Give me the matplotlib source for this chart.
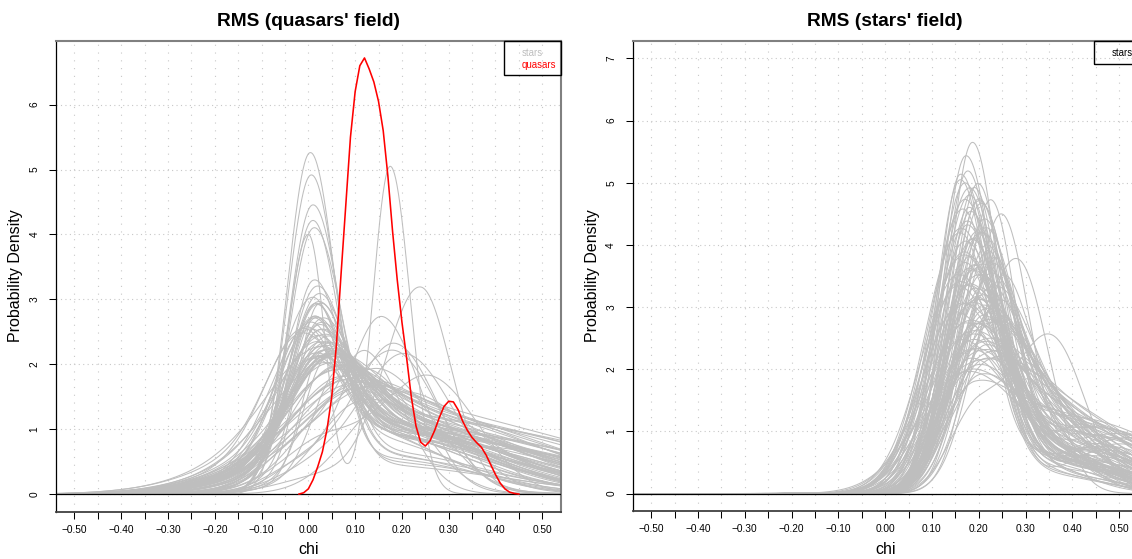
import matplotlib
matplotlib.use('Agg')

import matplotlib.pyplot as plt
import numpy as np
from matplotlib.patches import Rectangle

plt.rcParams['font.family'] = ['Liberation Sans', 'DejaVu Sans']

# Densidades de las estrellas en el campo de los quasars:
# cada curva = nucleo (moda, altura, ancho izq/der) + cola (centro, altura, ancho izq/der)
qf_mode = [0.015, 0.010, 0.020, 0.012, 0.018, 0.008, 0.025, 0.015, 0.005, 0.022,
           0.020, 0.030, 0.010, 0.035, 0.000, 0.025, 0.040, 0.015, 0.030, 0.005,
           0.045, 0.020, 0.035, 0.010, 0.050, 0.025, -0.005, 0.040, 0.015, 0.030,
           0.020, 0.045,
           0.050, 0.070, 0.040, 0.090, 0.060, 0.030, 0.110, 0.080, 0.055, 0.120, 0.035, 0.065,
           0.240, 0.160, 0.190, 0.210, 0.170, 0.270,
           0.003, 0.005, 0.008, 0.008, 0.010, 0.010, 0.000,
           -0.010, 0.000, -0.020, 0.010, 0.030, -0.015, 0.020, 0.005, 0.040, 0.015,
           0.025, 0.035, 0.020, 0.060, 0.000, 0.010, 0.030, 0.045, 0.020, 0.070,
           0.100, 0.150, 0.200, 0.180, 0.130]
qf_core = [2.35, 2.20, 2.10, 2.05, 1.95, 2.00, 1.90, 2.15, 1.85, 1.80,
           1.60, 1.50, 1.40, 1.55, 1.30, 1.45, 1.35, 1.25, 1.20, 1.50,
           1.30, 1.10, 1.15, 1.35, 1.20, 1.05, 1.20, 1.00, 1.45, 0.95,
           1.25, 1.10,
           0.80, 0.70, 0.60, 0.55, 0.75, 0.65, 0.50, 0.40, 0.90, 0.60, 0.85, 0.45,
           3.00, 2.45, 2.00, 1.80, 1.60, 1.50,
           5.00, 4.65, 4.15, 3.97, 3.77, 2.90, 4.00,
           1.70, 1.50, 1.40, 1.90, 1.30, 1.60, 1.00, 2.10, 0.90, 1.75,
           1.60, 1.40, 2.30, 1.20, 1.80, 1.55, 1.25, 1.10, 1.95, 1.00,
           0.90, 1.30, 1.60, 1.40, 1.80]
qf_left = [0.055, 0.050, 0.058, 0.052, 0.060, 0.050, 0.062, 0.055, 0.048, 0.058,
           0.065, 0.070, 0.060, 0.075, 0.055, 0.068, 0.080, 0.062, 0.072, 0.058,
           0.085, 0.065, 0.075, 0.060, 0.090, 0.070, 0.055, 0.080, 0.065, 0.075,
           0.068, 0.085,
           0.090, 0.100, 0.085, 0.100, 0.095, 0.080, 0.110, 0.100, 0.090, 0.110, 0.085, 0.095,
           0.075, 0.070, 0.080, 0.090, 0.100, 0.090,
           0.048, 0.050, 0.050, 0.052, 0.052, 0.050, 0.045,
           0.060, 0.065, 0.070, 0.070, 0.090, 0.075, 0.100, 0.065, 0.110, 0.045,
           0.040, 0.045, 0.042, 0.050, 0.080, 0.085, 0.075, 0.080, 0.060, 0.090,
           0.080, 0.090, 0.080, 0.100, 0.060]
qf_right = [0.060, 0.062, 0.058, 0.065, 0.060, 0.058, 0.066, 0.055, 0.062, 0.070,
            0.075, 0.080, 0.070, 0.070, 0.075, 0.085, 0.075, 0.080, 0.090, 0.068,
            0.080, 0.085, 0.090, 0.072, 0.080, 0.090, 0.070, 0.095, 0.078, 0.090,
            0.082, 0.085,
            0.100, 0.100, 0.095, 0.110, 0.100, 0.100, 0.100, 0.120, 0.090, 0.110, 0.095, 0.105,
            0.065, 0.080, 0.090, 0.100, 0.110, 0.100,
            0.052, 0.054, 0.058, 0.056, 0.060, 0.060, 0.035,
            0.065, 0.070, 0.080, 0.060, 0.075, 0.068, 0.085, 0.058, 0.090, 0.065,
            0.070, 0.080, 0.060, 0.090, 0.062, 0.070, 0.085, 0.090, 0.065, 0.095,
            0.100, 0.100, 0.090, 0.110, 0.080]
qf_tail_at = [0.12, 0.13, 0.10, 0.14, 0.11, 0.12, 0.15, 0.10, 0.12, 0.13,
              0.12, 0.14, 0.10, 0.15, 0.12, 0.16, 0.13, 0.11, 0.14, 0.13,
              0.17, 0.10, 0.15, 0.12, 0.16, 0.13, 0.11, 0.14, 0.15, 0.12,
              0.17, 0.13,
              0.15, 0.18, 0.12, 0.20, 0.16, 0.10, 0.18, 0.14, 0.17, 0.22, 0.13, 0.15,
              0.05, 0.00, 0.02, 0.05, 0.00, 0.05,
              0.15, 0.14, 0.16, 0.13, 0.15, 0.12, 0.175,
              0.08, 0.06, 0.05, 0.10, 0.08, 0.04, 0.06, 0.09, 0.09, 0.12,
              0.14, 0.15, 0.13, 0.16, 0.10, 0.12, 0.18, 0.20, 0.15, 0.25,
              0.28, 0.02, 0.05, 0.35, 0.00]
qf_tail = [1.05, 1.00, 1.10, 0.95, 1.15, 1.00, 1.05, 0.90, 1.10, 1.00,
           1.10, 1.00, 1.20, 1.05, 1.15, 0.95, 1.10, 1.25, 1.20, 0.90,
           1.05, 1.30, 1.15, 1.05, 1.10, 1.25, 1.15, 1.30, 0.95, 1.35,
           1.00, 1.20,
           1.30, 1.25, 1.40, 1.20, 1.10, 1.45, 1.30, 1.35, 1.05, 1.15, 1.20, 1.40,
           0.30, 0.50, 0.60, 0.50, 0.80, 0.90,
           0.55, 0.50, 0.60, 0.45, 0.65, 0.60, 5.05,
           1.00, 1.10, 1.15, 0.95, 1.20, 1.00, 1.30, 1.05, 1.25, 1.10,
           1.00, 1.10, 0.95, 1.00, 1.00, 0.95, 1.20, 1.15, 0.85, 0.95,
           0.85, 1.00, 1.10, 0.60, 0.90]
qf_tail_left = [0.16, 0.15, 0.17, 0.15, 0.18, 0.14, 0.17, 0.15, 0.16, 0.18,
                0.17, 0.18, 0.16, 0.19, 0.15, 0.20, 0.18, 0.17, 0.19, 0.14,
                0.20, 0.17, 0.18, 0.13, 0.21, 0.18, 0.15, 0.19, 0.16, 0.18,
                0.20, 0.20,
                0.20, 0.22, 0.19, 0.22, 0.21, 0.18, 0.22, 0.20, 0.20, 0.23, 0.17, 0.21,
                0.10, 0.08, 0.08, 0.10, 0.09, 0.10,
                0.12, 0.12, 0.13, 0.11, 0.12, 0.12, 0.037,
                0.17, 0.18, 0.19, 0.18, 0.19, 0.17, 0.19, 0.17, 0.19, 0.12,
                0.11, 0.12, 0.12, 0.12, 0.17, 0.18, 0.19, 0.20, 0.18, 0.18,
                0.18, 0.10, 0.11, 0.10, 0.08]
qf_tail_right = [0.26, 0.30, 0.24, 0.34, 0.22, 0.28, 0.32, 0.20, 0.36, 0.26,
                 0.28, 0.30, 0.25, 0.33, 0.22, 0.38, 0.27, 0.30, 0.35, 0.24,
                 0.40, 0.26, 0.32, 0.21, 0.36, 0.30, 0.23, 0.28, 0.38, 0.25,
                 0.33, 0.29,
                 0.34, 0.30, 0.27, 0.38, 0.24, 0.30, 0.32, 0.42, 0.20, 0.35, 0.22, 0.30,
                 0.20, 0.15, 0.15, 0.20, 0.12, 0.15,
                 0.20, 0.24, 0.18, 0.26, 0.22, 0.25, 0.042,
                 0.26, 0.30, 0.24, 0.30, 0.28, 0.34, 0.26, 0.22, 0.32, 0.28,
                 0.30, 0.26, 0.24, 0.22, 0.18, 0.17, 0.40, 0.42, 0.44, 0.35,
                 0.30, 0.12, 0.13, 0.15, 0.10]

# Densidad de los quasars (curva roja)
red_x = [-0.02, -0.01, 0.00, 0.01, 0.02, 0.03, 0.04, 0.05, 0.06, 0.07,
         0.08, 0.09, 0.10, 0.11, 0.12, 0.13, 0.14, 0.15, 0.16, 0.17,
         0.18, 0.19, 0.20, 0.21, 0.22, 0.23, 0.24, 0.25, 0.26, 0.27,
         0.28, 0.29, 0.30, 0.31, 0.32, 0.33, 0.34, 0.35, 0.36, 0.37,
         0.38, 0.39, 0.40, 0.41, 0.42, 0.43, 0.44, 0.45]
red_y = [0.00, 0.02, 0.08, 0.22, 0.42, 0.65, 1.00, 1.50, 2.30, 3.40,
         4.45, 5.50, 6.20, 6.60, 6.72, 6.55, 6.35, 6.05, 5.60, 4.90,
         4.05, 3.30, 2.65, 2.10, 1.50, 1.05, 0.80, 0.74, 0.82, 0.98,
         1.18, 1.35, 1.43, 1.42, 1.30, 1.12, 0.98, 0.87, 0.79, 0.72,
         0.60, 0.45, 0.30, 0.17, 0.08, 0.03, 0.01, 0.00]

# Densidades de las estrellas en el campo de las estrellas
sf_mode = [0.186, 0.172, 0.161, 0.190, 0.178, 0.200, 0.225, 0.247, 0.168, 0.182,
           0.195, 0.175, 0.210, 0.160, 0.188, 0.170, 0.200, 0.215, 0.180, 0.165,
           0.193, 0.230, 0.176, 0.205, 0.185, 0.158, 0.220, 0.286, 0.190, 0.172,
           0.200, 0.180, 0.240, 0.165, 0.195, 0.210, 0.178, 0.225, 0.190, 0.170,
           0.205, 0.360, 0.185, 0.198, 0.175, 0.215, 0.190, 0.200, 0.182, 0.195,
           0.210, 0.188, 0.200, 0.175, 0.205, 0.168, 0.215, 0.192, 0.180, 0.200,
           0.170, 0.180, 0.165, 0.175, 0.158, 0.185, 0.168, 0.190, 0.155, 0.178,
           0.195, 0.162, 0.180, 0.170, 0.190, 0.160, 0.185, 0.175, 0.195, 0.165,
           0.200, 0.210, 0.220, 0.190, 0.205, 0.235, 0.250, 0.175, 0.185, 0.200,
           0.150, 0.145, 0.180, 0.195, 0.170, 0.210, 0.185, 0.160, 0.176, 0.198]
sf_core = [5.60, 5.38, 5.10, 4.90, 4.80, 4.70, 4.70, 4.45, 4.60, 4.50,
           4.40, 4.30, 4.25, 4.20, 4.10, 4.00, 3.95, 3.90, 3.80, 3.75,
           3.70, 3.60, 3.55, 3.50, 3.40, 3.35, 3.30, 3.60, 3.25, 3.20,
           3.10, 3.05, 3.00, 2.95, 2.90, 2.85, 2.80, 2.75, 2.70, 2.60,
           2.55, 2.35, 2.50, 2.45, 2.40, 2.35, 2.30, 2.20, 2.15, 2.10,
           2.05, 2.00, 1.95, 1.90, 1.85, 1.80, 1.75, 1.70, 1.95, 1.80,
           4.95, 4.75, 4.55, 4.35, 4.15, 4.05, 3.85, 3.65, 3.45, 3.30,
           3.15, 3.00, 2.85, 2.70, 2.55, 2.40, 2.25, 2.10, 1.95, 1.80,
           4.40, 4.10, 3.90, 3.60, 3.30, 3.80, 3.40, 3.10, 2.90, 2.60,
           3.20, 2.80, 4.60, 4.20, 3.70, 3.00, 2.40, 5.00, 5.15, 4.95]
sf_left = [0.050, 0.050, 0.048, 0.055, 0.065, 0.058, 0.056, 0.060, 0.066, 0.055,
           0.058, 0.056, 0.060, 0.072, 0.057, 0.072, 0.060, 0.062, 0.058, 0.078,
           0.060, 0.064, 0.058, 0.062, 0.060, 0.078, 0.064, 0.068, 0.061, 0.058,
           0.064, 0.060, 0.066, 0.080, 0.063, 0.065, 0.061, 0.066, 0.064, 0.082,
           0.066, 0.070, 0.064, 0.068, 0.088, 0.068, 0.066, 0.070, 0.066, 0.070,
           0.072, 0.070, 0.072, 0.068, 0.075, 0.090, 0.076, 0.072, 0.088, 0.074,
           0.060, 0.064, 0.068, 0.070, 0.074, 0.066, 0.078, 0.068, 0.080, 0.074,
           0.076, 0.084, 0.078, 0.086, 0.080, 0.090, 0.084, 0.088, 0.086, 0.100,
           0.056, 0.058, 0.062, 0.058, 0.060, 0.062, 0.064, 0.056, 0.060, 0.062,
           0.066, 0.070, 0.058, 0.060, 0.066, 0.068, 0.070, 0.052, 0.053, 0.056]
sf_right = [0.055, 0.060, 0.062, 0.058, 0.065, 0.060, 0.055, 0.060, 0.068, 0.070,
            0.065, 0.072, 0.060, 0.075, 0.068, 0.080, 0.070, 0.065, 0.078, 0.085,
            0.072, 0.068, 0.082, 0.075, 0.080, 0.090, 0.072, 0.065, 0.085, 0.090,
            0.080, 0.088, 0.075, 0.095, 0.085, 0.082, 0.092, 0.080, 0.090, 0.100,
            0.088, 0.070, 0.095, 0.090, 0.100, 0.085, 0.095, 0.090, 0.100, 0.095,
            0.090, 0.100, 0.095, 0.105, 0.100, 0.110, 0.095, 0.105, 0.100, 0.098,
            0.062, 0.060, 0.066, 0.070, 0.072, 0.074, 0.080, 0.076, 0.085, 0.082,
            0.078, 0.090, 0.088, 0.095, 0.090, 0.100, 0.095, 0.105, 0.100, 0.110,
            0.058, 0.062, 0.058, 0.060, 0.066, 0.060, 0.062, 0.065, 0.070, 0.075,
            0.090, 0.095, 0.065, 0.070, 0.075, 0.080, 0.090, 0.060, 0.058, 0.056]
sf_tail_at = [0.34, 0.32, 0.35, 0.36, 0.33, 0.38, 0.40, 0.42, 0.34, 0.37,
              0.30, 0.40, 0.35, 0.33, 0.43, 0.36, 0.32, 0.38, 0.45, 0.35,
              0.30, 0.40, 0.37, 0.44, 0.33, 0.38, 0.36, 0.15, 0.40, 0.34,
              0.46, 0.30, 0.42, 0.37, 0.35, 0.48, 0.32, 0.40, 0.44, 0.36,
              0.30, 0.20, 0.42, 0.35, 0.38, 0.46, 0.33, 0.40, 0.50, 0.36,
              0.44, 0.38, 0.31, 0.42, 0.48, 0.35, 0.40, 0.45, 0.30, 0.37,
              0.33, 0.36, 0.34, 0.38, 0.32, 0.40, 0.35, 0.42, 0.33, 0.38,
              0.45, 0.36, 0.31, 0.40, 0.34, 0.37, 0.43, 0.32, 0.39, 0.35,
              0.30, 0.33, 0.40, 0.36, 0.42, 0.45, 0.40, 0.30, 0.28, 0.34,
              0.35, 0.38, 0.47, 0.50, 0.48, 0.52, 0.46, 0.34, 0.36, 0.38]
sf_tail = [0.55, 0.50, 0.60, 0.45, 0.70, 0.55, 0.60, 0.50, 0.80, 0.60,
           0.90, 0.50, 0.75, 0.65, 0.70, 0.55, 1.00, 0.80, 0.60, 0.70,
           1.10, 0.90, 0.75, 0.65, 1.00, 0.70, 1.05, 1.10, 0.80, 0.90,
           0.70, 1.20, 0.85, 0.80, 1.15, 0.75, 1.25, 1.00, 0.90, 1.00,
           1.30, 1.40, 1.00, 1.20, 1.10, 0.90, 1.30, 1.15, 0.95, 1.25,
           1.05, 1.20, 1.35, 1.10, 1.00, 1.30, 1.25, 1.10, 1.40, 1.30,
           0.35, 0.40, 0.30, 0.45, 0.35, 0.40, 0.30, 0.45, 0.35, 0.40,
           0.50, 0.45, 0.60, 0.40, 0.55, 0.45, 0.50, 0.60, 0.45, 0.50,
           1.00, 1.20, 1.00, 1.30, 1.10, 0.80, 1.10, 1.50, 1.60, 1.45,
           0.70, 0.80, 0.70, 0.80, 0.90, 0.90, 1.05, 0.60, 0.55, 0.50]
sf_tail_left = [0.07, 0.07, 0.08, 0.07, 0.08, 0.08, 0.07, 0.08, 0.09, 0.08,
                0.07, 0.09, 0.08, 0.08, 0.08, 0.09, 0.07, 0.08, 0.10, 0.09,
                0.08, 0.08, 0.09, 0.09, 0.08, 0.10, 0.08, 0.05, 0.09, 0.09,
                0.10, 0.08, 0.09, 0.10, 0.09, 0.10, 0.08, 0.10, 0.10, 0.10,
                0.08, 0.06, 0.10, 0.09, 0.11, 0.10, 0.09, 0.11, 0.12, 0.10,
                0.11, 0.11, 0.09, 0.11, 0.12, 0.10, 0.12, 0.12, 0.09, 0.11,
                0.08, 0.09, 0.08, 0.09, 0.08, 0.10, 0.09, 0.10, 0.10, 0.10,
                0.10, 0.10, 0.09, 0.11, 0.10, 0.11, 0.12, 0.10, 0.12, 0.12,
                0.06, 0.06, 0.06, 0.07, 0.07, 0.06, 0.07, 0.08, 0.07, 0.08,
                0.11, 0.12, 0.09, 0.10, 0.11, 0.12, 0.12, 0.08, 0.08, 0.08]
sf_tail_right = [0.12, 0.10, 0.12, 0.10, 0.13, 0.11, 0.12, 0.10, 0.12, 0.14,
                 0.11, 0.15, 0.12, 0.13, 0.12, 0.16, 0.10, 0.14, 0.12, 0.15,
                 0.12, 0.13, 0.14, 0.13, 0.15, 0.16, 0.12, 0.07, 0.15, 0.13,
                 0.14, 0.14, 0.12, 0.17, 0.13, 0.12, 0.15, 0.14, 0.16, 0.17,
                 0.13, 0.08, 0.15, 0.14, 0.18, 0.13, 0.15, 0.16, 0.12, 0.16,
                 0.15, 0.17, 0.14, 0.18, 0.14, 0.17, 0.15, 0.16, 0.16, 0.17,
                 0.12, 0.13, 0.12, 0.14, 0.13, 0.12, 0.15, 0.13, 0.14, 0.15,
                 0.12, 0.16, 0.14, 0.16, 0.15, 0.17, 0.15, 0.16, 0.17, 0.18,
                 0.10, 0.11, 0.10, 0.09, 0.12, 0.11, 0.12, 0.12, 0.10, 0.11,
                 0.16, 0.16, 0.12, 0.12, 0.14, 0.12, 0.14, 0.12, 0.11, 0.10]

x_ticks = [-0.50, -0.40, -0.30, -0.20, -0.10, 0.00, 0.10, 0.20, 0.30, 0.40, 0.50]
x_minor = [-0.45, -0.35, -0.25, -0.15, -0.05, 0.05, 0.15, 0.25, 0.35, 0.45]
x_labels = [('%.2f' % v).replace('-', '\u2212') for v in x_ticks]


def pieza(x, m, h, sl, sr):
    s = np.where(x < m, sl, sr)
    return h * np.exp(-0.5 * ((x - m) / s) ** 2)


def curvas(ax, modo, core, izq, der, cola_at, cola, cola_izq, cola_der):
    xs = np.linspace(-0.6, 0.6, 1500)
    for i in range(len(modo)):
        y = pieza(xs, modo[i], core[i], izq[i], der[i])
        y = y + pieza(xs, cola_at[i], cola[i], cola_izq[i], cola_der[i])
        ax.plot(xs, y, color='#BEBEBE', lw=0.75, zorder=2)


def estilo(ax, ymax, yticks):
    ax.set_xlim(-0.54, 0.54)
    ax.set_ylim(-0.04 * ymax, 1.04 * ymax)
    for v in x_ticks + x_minor:
        ax.axvline(v, color='#c8c8c8', lw=0.8, ls=(0, (1, 6)), zorder=1)
    for v in yticks:
        ax.axhline(v, color='#c8c8c8', lw=0.8, ls=(0, (1, 3)), zorder=1)
    ax.axhline(0, color='black', lw=0.9, zorder=4)
    ax.set_xticks(x_ticks)
    ax.set_xticklabels(x_labels)
    ax.set_xticks(x_minor, minor=True)
    ax.set_yticks(yticks)
    ax.set_yticklabels([str(v) for v in yticks], rotation=90, va='center')
    ax.tick_params(which='both', direction='out', length=4.7, width=0.75,
                   labelsize=7.3, color='black')
    ax.tick_params(axis='x', which='major', pad=5)
    ax.tick_params(axis='y', pad=7)
    ax.spines['left'].set_color('black')
    ax.spines['left'].set_linewidth(0.9)
    ax.spines['bottom'].set_color('#404040')
    ax.spines['bottom'].set_linewidth(1.3)
    for s in ['top', 'right']:
        ax.spines[s].set_color('#808080')
        ax.spines[s].set_linewidth(1.5)


fig = plt.figure(figsize=(11.32, 5.59), dpi=100)
W, H = 1132.0, 559.0

ax1 = fig.add_axes([55.7 / W, 1 - 511.5 / H, 505.3 / W, 471.0 / H])
ax2 = fig.add_axes([632.5 / W, 1 - 511.0 / H, 505.3 / W, 470.0 / H])

# Panel izquierdo
curvas(ax1, qf_mode, qf_core, qf_left, qf_right, qf_tail_at, qf_tail, qf_tail_left, qf_tail_right)
ax1.plot(red_x, red_y, color='red', lw=1.15, zorder=5)
estilo(ax1, max(red_y), [0, 1, 2, 3, 4, 5, 6])

ax1.add_patch(Rectangle((0.8878, 0.926), 0.1122, 0.074, transform=ax1.transAxes,
                        fill=False, edgecolor='black', lw=1.0, clip_on=False, zorder=6))
ax1.text(0.9228, 0.9735, 'stars', transform=ax1.transAxes, color='#BEBEBE',
         fontsize=6.9, va='center', ha='left', zorder=6)
ax1.text(0.9228, 0.949, 'quasars', transform=ax1.transAxes, color='red',
         fontsize=6.9, va='center', ha='left', zorder=6)

# Panel derecho
curvas(ax2, sf_mode, sf_core, sf_left, sf_right, sf_tail_at, sf_tail, sf_tail_left, sf_tail_right)
estilo(ax2, 7, [0, 1, 2, 3, 4, 5, 6, 7])

ax2.add_patch(Rectangle((0.914, 0.9517), 0.2, 0.0483, transform=ax2.transAxes,
                        fill=False, edgecolor='black', lw=1.0, clip_on=False, zorder=6))
ax2.text(0.949, 0.9755, 'stars', transform=ax2.transAxes, color='black',
         fontsize=6.9, va='center', ha='left', zorder=6)

# Titulos y etiquetas
for ax, titulo in [(ax1, "RMS (quasars' field)"), (ax2, "RMS (stars' field)")]:
    pos = ax.get_position()
    cx = pos.x0 + 505.3 / W / 2
    fig.text(cx, 1 - 26.2 / H, titulo, ha='center', va='baseline',
             fontsize=13.8, fontweight='bold')
    fig.text(cx, 1 - 550 / H, 'chi', ha='center', va='center', fontsize=11.5)

fig.text(16 / W, 1 - 276 / H, 'Probability Density', rotation=90,
         ha='center', va='center', fontsize=11.5)
fig.text(592 / W, 1 - 276 / H, 'Probability Density', rotation=90,
         ha='center', va='center', fontsize=11.5)

fig.savefig('out.png', dpi=100)
